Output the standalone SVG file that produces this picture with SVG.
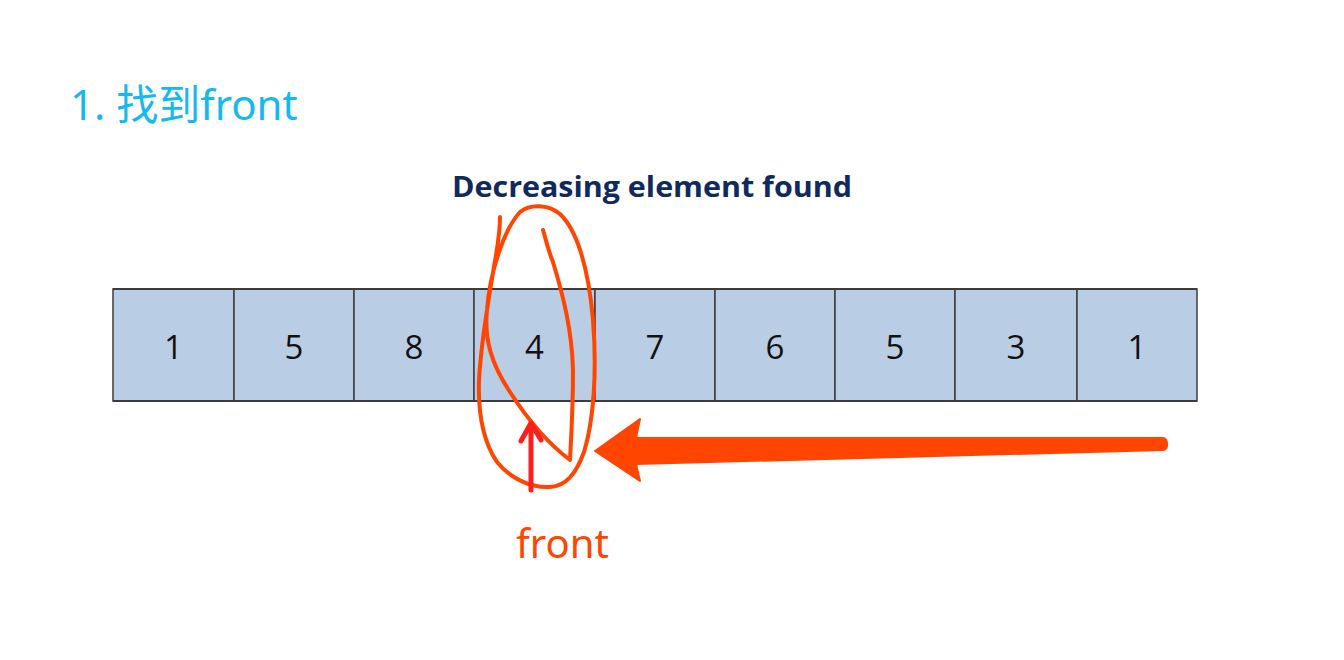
<svg xmlns="http://www.w3.org/2000/svg" width="1344" height="660" viewBox="0 0 1344 660">
<style>
.cell{fill:#b9cde5;stroke:#3c3c3c;stroke-width:1.5}
.num{font-family:"Open Sans","Noto Sans",sans-serif;font-size:33px;fill:#111111;text-anchor:middle}
.scribble{fill:none;stroke:#ff4500;stroke-width:4;stroke-linecap:round;stroke-linejoin:round}
</style>
<rect width="1344" height="660" fill="#ffffff"/>
<text x="70" y="120" font-family="'Noto Sans','Noto Sans CJK SC',sans-serif" font-size="42" fill="#14b9f0">1. 找到front</text>
<text x="452" y="197" font-family="'Open Sans','Liberation Sans',sans-serif" font-weight="bold" font-size="29" fill="#102a5e" textLength="400" lengthAdjust="spacingAndGlyphs">Decreasing element found</text>
<g id="array">
<g id="c0"><rect class="cell" x="113" y="289" width="121" height="112"/><text class="num" x="173.5" y="359">1</text></g>
<g id="c1"><rect class="cell" x="234" y="289" width="120" height="112"/><text class="num" x="294" y="359">5</text></g>
<g id="c2"><rect class="cell" x="354" y="289" width="120" height="112"/><text class="num" x="414" y="359">8</text></g>
<g id="c3"><rect class="cell" x="474" y="289" width="121" height="112"/><text class="num" x="534.5" y="359">4</text></g>
<g id="c4"><rect class="cell" x="595" y="289" width="120" height="112"/><text class="num" x="655" y="359">7</text></g>
<g id="c5"><rect class="cell" x="715" y="289" width="120" height="112"/><text class="num" x="775" y="359">6</text></g>
<g id="c6"><rect class="cell" x="835" y="289" width="120" height="112"/><text class="num" x="895" y="359">5</text></g>
<g id="c7"><rect class="cell" x="955" y="289" width="122" height="112"/><text class="num" x="1016" y="359">3</text></g>
<g id="c8"><rect class="cell" x="1077" y="289" width="120" height="112"/><text class="num" x="1137" y="359">1</text></g>
<line x1="113" y1="289" x2="1197" y2="289" stroke="#3c3c3c" stroke-width="2"/>
<line x1="113" y1="401" x2="1197" y2="401" stroke="#3c3c3c" stroke-width="2"/>
</g>
<g id="connectors">
<path class="scribble" d="M543,230 C546,240 548,250 553,262 C563,295 572,330 573,370 C573,410 571,440 570,460 C550,445 528,420 510,392 C492,365 484,340 487,310 C490,270 505,228 520,212 C530,204 548,204 560,214 C575,228 588,262 593,320 C597,370 594,420 584,452 C576,474 566,486 550,487 C530,488 510,478 497,462 C482,440 478,410 479,380 C481,340 490,290 496,255 C499,237 500,228 500,217"/>
<g id="red-arrow" fill="none" stroke="#ff1e1e" stroke-width="5" stroke-linecap="round" stroke-linejoin="round">
<line x1="531" y1="490" x2="531" y2="424"/>
<polyline points="521,441 531,423 541,440"/>
</g>
<path id="big-arrow" fill="#ff4500" stroke="#ff4500" stroke-width="2" stroke-linejoin="round" d="M1163,438 C1168,438 1169,450 1163,450 L636,464 L640,481 L595,451 L640,419 L636,438 Z"/>
</g>
<text x="516" y="558" font-family="'Noto Sans',sans-serif" font-size="40" fill="#ff4500">front</text>
</svg>
